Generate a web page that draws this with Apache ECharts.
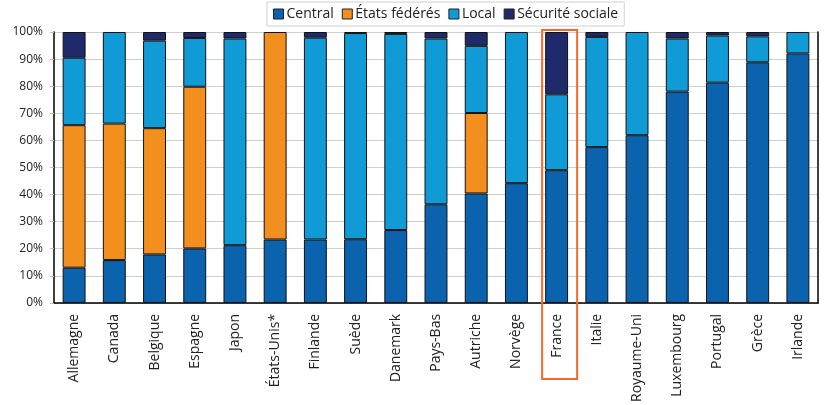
<!DOCTYPE html>
<html><head><meta charset="utf-8">
<script src="https://cdn.jsdelivr.net/npm/echarts@6/dist/echarts.min.js"></script>
<style>html,body{margin:0;padding:0;background:#fff}#c{width:825px;height:405px}</style>
</head><body><div id="c"></div>
<script>
const categories = ['Allemagne','Canada','Belgique','Espagne','Japon','États-Unis*','Finlande','Suède','Danemark','Pays-Bas','Autriche','Norvège','France','Italie','Royaume-Uni','Luxembourg','Portugal','Grèce','Irlande'];
const central = [13.0,15.8,17.9,20.1,21.3,23.4,23.4,23.5,26.9,36.4,40.4,44.2,49.0,57.5,61.9,78.0,81.3,88.8,92.1];
const etatsFederes = [52.6,50.4,46.6,59.7,null,76.6,null,null,null,null,29.7,null,null,null,null,null,null,null,null];
const local = [24.9,33.8,32.3,18.0,76.3,null,74.5,76.1,72.4,61.2,24.8,55.8,28.0,40.7,38.1,19.6,17.4,9.6,7.9];
const securiteSociale = [9.5,null,3.2,2.2,2.4,null,2.1,0.4,0.7,2.4,5.1,null,23.0,1.8,null,2.4,1.3,1.6,null];
const seriesNames = ['Central','États fédérés','Local','Sécurité sociale'];
const colors = ['#0b63ae','#f28f1f','#109bd7','#1f2a6a'];
const highlighted = 'France';

const FONT = 'Open Sans';
const chart = echarts.init(document.getElementById('c'), null, {renderer:'canvas'});
const mk = (name, data, i) => ({
  name, type:'bar', stack:'t', data, barWidth:'57%',
  itemStyle:{color:colors[i], borderColor:'#111', borderWidth:1},
  emphasis:{disabled:true}
});
chart.setOption({
  animation:false,
  textStyle:{fontFamily:FONT},
  legend:{
    left:267, top:2, itemWidth:10, itemHeight:10, itemGap:8,
    padding:[5,6,5,6],
    borderColor:'#d0d0d0', borderWidth:1,
    textStyle:{fontFamily:FONT, fontSize:14, color:'#222', padding:[0,0,0,-2]},
    data:seriesNames.map((n,i)=>({name:n, icon:'rect', itemStyle:{borderColor:'#222', borderWidth:1}}))
  },
  grid:{left:54, right:7, top:32, bottom:100, containLabel:false},
  xAxis:{
    type:'category', data:categories,
    axisLine:{lineStyle:{color:'#000', width:1.5}},
    axisTick:{show:false},
    axisLabel:{rotate:90, fontFamily:FONT, fontSize:14, color:'#222', margin:11, interval:0}
  },
  yAxis:[{
    type:'value', min:0, max:100, interval:10,
    axisLine:{show:true, lineStyle:{color:'#000', width:1.5}},
    axisTick:{show:true, length:4, lineStyle:{color:'#bbb'}},
    axisLabel:{formatter:'{value}%', fontFamily:FONT, fontSize:12, color:'#222', margin:11},
    splitLine:{lineStyle:{color:'#cfcfcf', width:1.2}}
  },{
    type:'value', min:0, max:100, interval:10, position:'right',
    axisLine:{show:true, lineStyle:{color:'#000', width:1.5}},
    axisTick:{show:false}, axisLabel:{show:false}, splitLine:{show:false}
  }],
  series:[mk(seriesNames[0],central,0), mk(seriesNames[1],etatsFederes,1), mk(seriesNames[2],local,2), mk(seriesNames[3],securiteSociale,3)]
});
const cx = chart.convertToPixel({xAxisIndex:0}, highlighted);
const yTop = chart.convertToPixel({yAxisIndex:0}, 100);
chart.setOption({graphic:[{
  type:'rect', shape:{x:cx-14.5, y:yTop-2, width:35, height:349},
  style:{fill:'none', stroke:'#f26a2e', lineWidth:2}, z:100
}]});
</script></body></html>
